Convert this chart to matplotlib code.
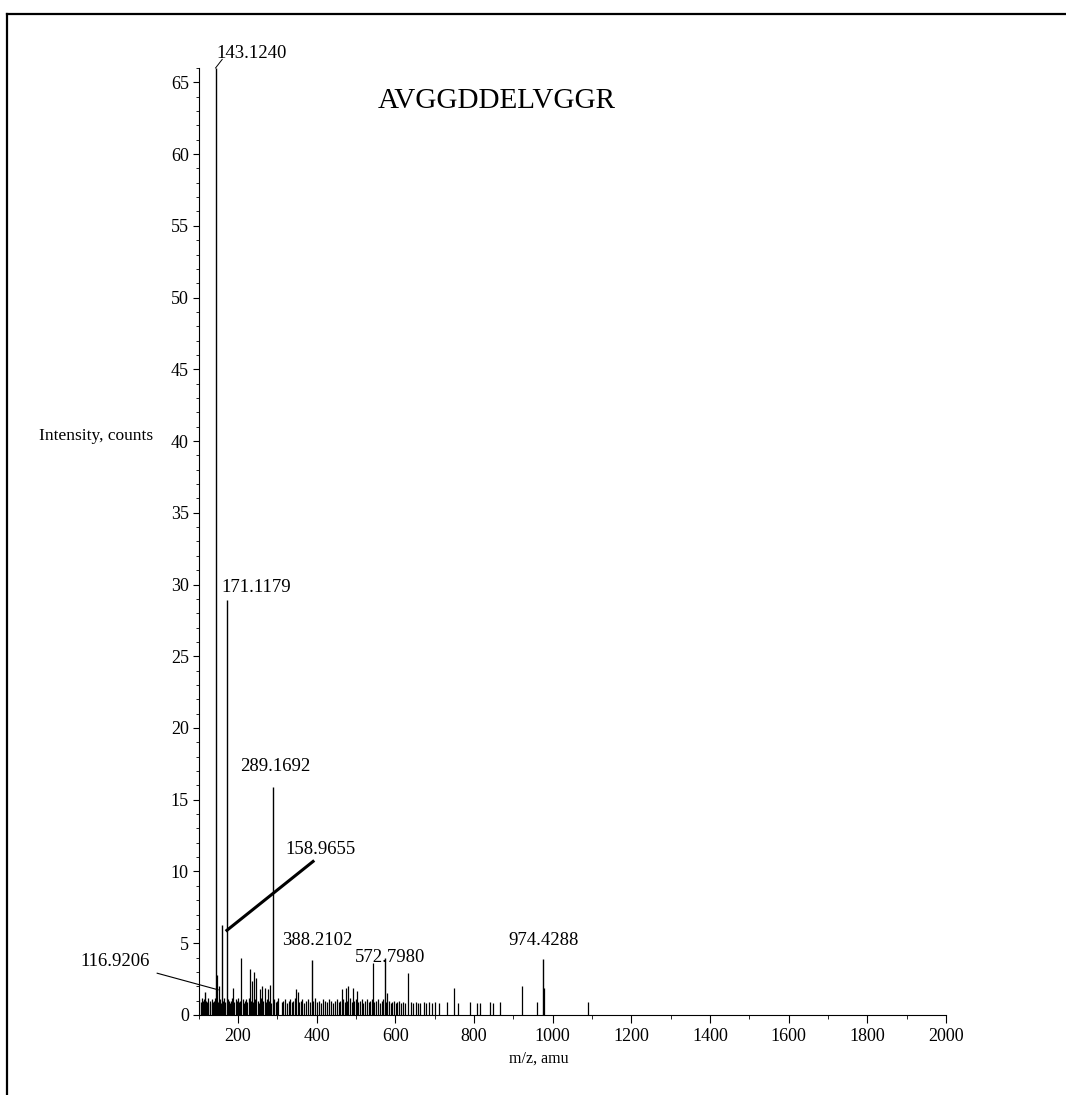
# MS/MS spectrum of AVGGDDELVGGR
import matplotlib
matplotlib.use('Agg')
import matplotlib.pyplot as plt
from matplotlib.lines import Line2D
from matplotlib.ticker import MultipleLocator

plt.rcParams['font.family'] = ['Liberation Serif', 'DejaVu Serif']

# Labelled peaks (m/z, intensity)
label_mz = [116.9206, 143.1240, 158.9655, 171.1179, 289.1692, 388.2102, 572.7980, 974.4288]
label_int = [1.6, 66.0, 6.3, 28.9, 15.9, 3.8, 4.0, 3.9]

# Medium peaks
mid_mz = [148, 153, 188, 209, 231, 236, 241, 247, 256, 262, 268, 276, 281, 348, 352,
          464, 475, 481, 492, 502, 543, 580, 633, 749, 922, 978]
mid_int = [2.8, 2.0, 1.9, 4.0, 3.2, 2.4, 3.0, 2.6, 1.8, 2.0, 1.9, 1.8, 2.1, 1.8, 1.6,
           1.8, 1.9, 2.0, 1.9, 1.7, 3.6, 1.5, 2.9, 1.9, 2.0, 1.9]

# Small peaks (baseline band)
small_mz = [102, 105, 108, 110, 112, 115, 119, 122, 125, 128, 130, 133, 136, 139, 141,
            146, 150, 155, 157, 161, 164, 167, 174, 177, 180, 183, 186, 191, 194, 197,
            200, 203, 206, 212, 215, 218, 221, 224, 227, 234, 238, 244, 250, 253, 259,
            265, 271, 274, 279, 284, 292, 297, 300, 303, 311, 315, 320, 326, 329, 333,
            337, 341, 345, 356, 360, 364, 369, 372, 378, 382, 392, 396, 401, 405, 410,
            416, 422, 426, 431, 436, 441, 446, 452, 456, 460, 468, 471, 478, 485, 489,
            496, 499, 506, 510, 515, 519, 524, 528, 533, 537, 540, 547, 551, 556, 560,
            565, 569, 576, 584, 588, 592, 597, 601, 605, 609, 614, 620, 625, 640, 645,
            652, 658, 663, 672, 679, 686, 693, 700, 710, 731, 760, 790, 808, 815, 841,
            848, 867, 960, 1090]
small_int = [1.1, 0.9, 1.2, 1.0, 0.8, 1.1, 1.0, 0.9, 1.2, 1.0, 0.8, 1.1, 0.9, 1.0, 1.2,
             1.0, 0.9, 1.1, 0.8, 1.0, 1.2, 0.9, 1.1, 1.0, 0.8, 1.0, 1.2, 0.9, 1.1, 1.0,
             1.2, 0.9, 1.0, 1.1, 0.8, 1.0, 1.1, 0.9, 1.2, 1.0, 0.9, 1.1, 1.0, 0.8, 1.2,
             1.0, 0.9, 1.1, 1.0, 0.8, 1.1, 0.9, 1.0, 1.2, 0.9, 1.0, 1.1, 0.8, 1.0, 1.1,
             0.9, 1.0, 1.2, 0.9, 1.0, 1.1, 0.8, 1.0, 1.1, 0.9, 1.0, 1.2, 0.9, 1.0, 0.8,
             1.1, 1.0, 0.9, 1.1, 1.0, 0.8, 1.0, 1.1, 0.9, 1.0, 1.1, 0.9, 1.0, 1.2, 0.9,
             1.0, 1.1, 0.9, 1.0, 1.1, 0.8, 1.0, 1.1, 0.9, 1.0, 1.1, 0.9, 1.0, 1.1, 0.8,
             1.0, 1.1, 0.9, 1.0, 0.8, 0.9, 1.0, 0.8, 0.9, 1.0, 0.8, 0.9, 0.8, 0.9, 0.8,
             0.9, 0.8, 0.8, 0.9, 0.8, 0.9, 0.8, 0.9, 0.8, 0.9, 0.8, 0.9, 0.8, 0.8, 0.9,
             0.8, 0.9, 0.9, 0.9]

fig = plt.figure(figsize=(10.66, 10.95), dpi=100)
ax = fig.add_axes([0.1863, 0.0731, 0.7011, 0.8648])

ax.vlines(small_mz, 0, small_int, color='black', lw=0.9)
ax.vlines(mid_mz, 0, mid_int, color='black', lw=0.9)
ax.vlines(label_mz, 0, label_int, color='black', lw=1.0)

ax.set_xlim(100, 2000)
ax.set_ylim(0, 66)
ax.spines['top'].set_visible(False)
ax.spines['right'].set_visible(False)
ax.xaxis.set_major_locator(MultipleLocator(200))
ax.xaxis.set_minor_locator(MultipleLocator(100))
ax.yaxis.set_major_locator(MultipleLocator(5))
ax.yaxis.set_minor_locator(MultipleLocator(1))
ax.tick_params(axis='both', which='major', labelsize=13, width=0.8)
ax.tick_params(axis='x', which='major', length=6)
ax.tick_params(axis='x', which='minor', length=3)
ax.tick_params(axis='y', which='major', length=4, pad=3)
ax.tick_params(axis='y', which='minor', length=2.5)

fs = 13.5
# peak labels
ax.text(236, 67.0, '143.1240', fontsize=fs, ha='center', va='center', clip_on=False)
ax.plot([143.1, 160], [66.0, 66.6], color='black', lw=0.7, clip_on=False)
ax.text(245.6, 29.8, '171.1179', fontsize=fs, ha='center', va='center')
ax.text(294, 17.3, '289.1692', fontsize=fs, ha='center', va='center')
ax.text(411, 11.5, '158.9655', fontsize=fs, ha='center', va='center')
ax.plot([172, 391], [5.9, 10.7], color='black', lw=2.2)
ax.text(401, 5.2, '388.2102', fontsize=fs, ha='center', va='center')
ax.text(587, 4.0, '572.7980', fontsize=fs, ha='center', va='center')
ax.text(978, 5.2, '974.4288', fontsize=fs, ha='center', va='center')
ax.annotate('116.9206', xy=(150, 1.75), xytext=(-23, 3.7), fontsize=fs,
            ha='right', va='center', annotation_clip=False,
            arrowprops=dict(arrowstyle='-', lw=0.8, color='black', shrinkA=3, shrinkB=0))

ax.text(858.6, 63.7, 'AVGGDDELVGGR', fontsize=21, ha='center', va='center')

fig.text(0.090, 0.602, 'Intensity, counts', fontsize=12.5, ha='center', va='center')
fig.text(0.505, 0.033, 'm/z, amu', fontsize=11.5, ha='center', va='center')

# outer frame (top and left edges)
fig.add_artist(Line2D([0.0066, 1.0], [0.9872, 0.9872], color='black', lw=1.6))
fig.add_artist(Line2D([0.0066, 0.0066], [0.0, 0.9872], color='black', lw=1.6))

plt.savefig('out.png', dpi=100)
plt.close()
